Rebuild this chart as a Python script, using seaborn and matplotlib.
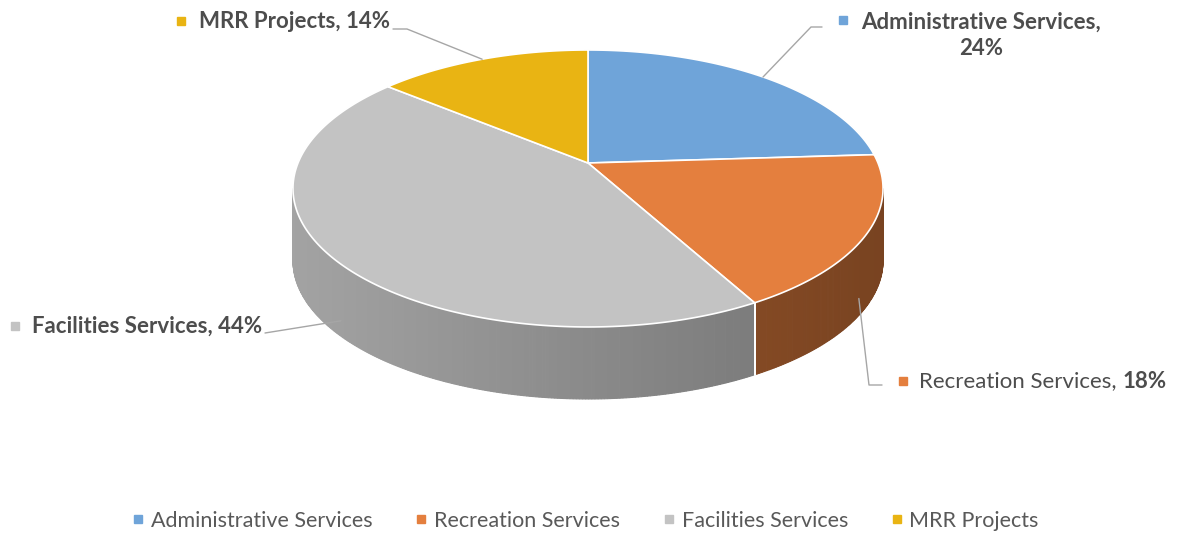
import numpy as np
import matplotlib
matplotlib.use("Agg")
import matplotlib.pyplot as plt
from matplotlib.lines import Line2D
import matplotlib.colors as mcolors
import seaborn as sns

# ---------------- data ----------------
categories = ["Administrative Services", "Recreation Services", "Facilities Services", "MRR Projects"]
shares = [24, 18, 44, 14]
top_colors = ["#6fa4d9", "#e47f3e", "#c3c3c3", "#e9b413"]
side_gain = [1.0, 0.88, 0.97, 1.0]

sns.set_theme(style="white")
plt.rcParams["font.family"] = ["Lato", "DejaVu Sans"]

W, H = 1179, 535
fig = plt.figure(figsize=(W / 100, H / 100), dpi=100)
ax = fig.add_axes([0, 0, 1, 1])
ax.set_xlim(0, W)
ax.set_ylim(H, 0)
ax.axis("off")

# ---------------- 3D pie geometry (perspective projection) ----------------
cx, cy = 588, 163
A, a, b = 290, 133.8, 0.184
depth = 72


def proj(theta_deg, dz=0.0):
    t = np.radians(theta_deg)
    u, v = np.cos(t), np.sin(t)
    d = 1 + b * v
    return cx + A * u / d, cy - a * v / d + dz


fracs = np.array(shares, dtype=float) / sum(shares)
starts = 90 - 360 * np.concatenate([[0], np.cumsum(fracs)[:-1]])
ends = starts - 360 * fracs

sil = np.degrees(np.arcsin(-b))
vis_hi, vis_lo = sil, -180 - sil

xl, xr = cx - A * 1.0174, cx + A * 1.0174

# side walls
for s, e, col, g in zip(starts, ends, top_colors, side_gain):
    for shift in (0, 360, -360):
        lo = max(e + shift, vis_lo)
        hi = min(s + shift, vis_hi)
        if hi <= lo:
            continue
        th = np.linspace(hi, lo, max(int((hi - lo) * 2), 2))
        base = np.array(mcolors.to_rgb(col)) * g
        for t0, t1 in zip(th[:-1], th[1:]):
            x0, y0 = proj(t0)
            x1, y1 = proj(t1)
            xm = 0.5 * (x0 + x1)
            f = 0.86 - 0.26 * (xm - xl) / (xr - xl)
            c = np.clip(base * f, 0, 1)
            ax.fill([x0, x1, x1, x0], [y0, y1, y1 + depth, y0 + depth],
                    color=c, lw=0.8, ec=c, zorder=1)
        for edge in (s + shift, e + shift):
            if vis_lo < edge < vis_hi:
                xe, ye = proj(edge)
                ax.plot([xe, xe], [ye, ye + depth], color="white", lw=1.3, zorder=2)

# top wedges
for s, e, col in zip(starts, ends, top_colors):
    th = np.linspace(s, e, 200)
    xs, ys = proj(th)
    ax.fill(np.concatenate([[cx], xs]), np.concatenate([[cy], ys]),
            fc=col, ec="white", lw=1.2, zorder=3, joinstyle="round")

# ---------------- data labels with leader lines ----------------
txt_col = "#4d4d4d"
line_col = "#a6a6a6"
fs = 16
mids = (starts + ends) / 2

# Administrative Services
mx, my = proj(mids[0])
ax.plot([822, 811, mx], [27, 27, my], color=line_col, lw=1.0, zorder=4)
ax.plot(843, 20, marker="s", ms=6, color=top_colors[0], zorder=5)
ax.text(981, 35, f"{categories[0]},\n{shares[0]}%", ha="center", va="center",
        fontsize=fs, fontweight="bold", color=txt_col, linespacing=1.3)

# MRR Projects
mx, my = proj(mids[3])
ax.plot([393, 407, mx], [29, 29, my], color=line_col, lw=1.0, zorder=4)
ax.plot(181, 21, marker="s", ms=6, color=top_colors[3], zorder=5)
ax.text(199, 21, f"{categories[3]}, {shares[3]}%", ha="left", va="center",
        fontsize=fs, fontweight="bold", color=txt_col)

# Facilities Services
mx, my = proj(mids[2])
ax.plot([265, mx + 6], [333, my + depth * 0.85], color=line_col, lw=1.0, zorder=4)
ax.plot(15, 326, marker="s", ms=6, color=top_colors[2], zorder=5)
ax.text(32, 326, f"{categories[2]}, {shares[2]}%", ha="left", va="center",
        fontsize=fs, fontweight="bold", color=txt_col)

# Recreation Services
mx, my = proj(mids[1])
ax.plot([mx - 8, 869, 882], [my + depth * 0.9, 385, 385], color=line_col, lw=1.0, zorder=4)
ax.plot(903, 381, marker="s", ms=6, color=top_colors[1], zorder=5)
t1 = ax.text(919, 381, f"{categories[1]}, ", ha="left", va="center",
             fontsize=fs, color=txt_col)
fig.canvas.draw()
bb = t1.get_window_extent(renderer=fig.canvas.get_renderer())
x_end = ax.transData.inverted().transform((bb.x1, bb.y0))[0]
ax.text(x_end, 381, f"{shares[1]}%", ha="left", va="center",
        fontsize=fs, fontweight="bold", color=txt_col)

# ---------------- legend ----------------
handles = [Line2D([], [], marker="s", linestyle="", color=c, markersize=6) for c in top_colors]
fig.legend(handles, categories, loc="center", bbox_to_anchor=(0.497, 1 - 521 / H),
           ncol=4, frameon=False, fontsize=15.5, handlelength=0.5, handletextpad=0.35,
           columnspacing=2.0, labelcolor="#595959")

fig.savefig("out.png", dpi=100)
